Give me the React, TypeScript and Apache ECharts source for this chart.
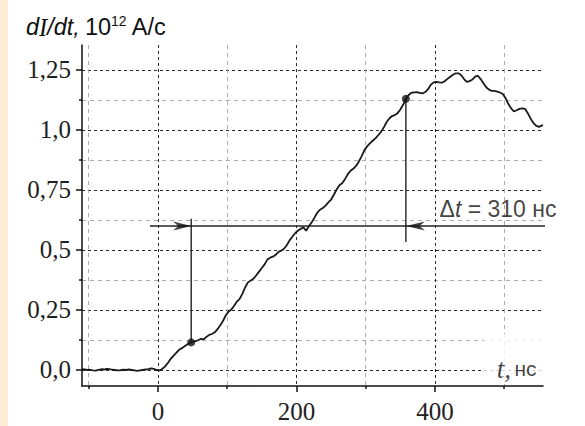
import React, { useEffect, useRef } from 'react';
import * as echarts from 'echarts';

// time, ns
const T = [
  -110, -106, -102, -98, -94, -90, -86, -82, -78, -74, -70, -66, -62, -58, -54, -50, -46, -42, -38, -34, -30, -26, -22, -18, -14, -10, -6, -2,
  2, 6, 10, 14, 18, 22, 26, 30, 34, 38, 42, 46, 50, 54, 58, 62, 66, 70, 74, 78, 82, 86, 90, 94, 98,
  102, 106, 110, 114, 118, 122, 126, 130, 134, 138, 142, 146, 150, 154, 158, 162, 166, 170, 174, 178, 182, 186, 190, 194, 198,
  202, 206, 210, 214, 218, 222, 226, 230, 234, 238, 242, 246, 250, 254, 258, 262, 266, 270, 274, 278, 282, 286, 290, 294, 298,
  302, 306, 310, 314, 318, 322, 326, 330, 334, 338, 342, 346, 350, 354, 358, 362, 366, 370, 374, 378, 382, 386, 390, 394, 398,
  402, 406, 410, 414, 418, 422, 426, 430, 434, 438, 442, 446, 450, 454, 458, 462, 466, 470, 474, 478, 482, 486, 490, 494, 498,
  502, 506, 510, 514, 518, 522, 526, 530, 534, 538, 542, 546, 550, 554, 556,
];
// dI/dt, 10^12 A/s
const DIDT = [
  0.004, 0.002, 0.0, 0.001, -0.002, -0.003, 0.0, 0.003, 0.002, 0.005, 0.004, 0.001, 0.0, -0.002, -0.001, 0.001, 0.0, 0.002, 0.0, -0.002, -0.004, -0.002, 0.0, 0.002, 0.004, 0.007, 0.005, 0.0,
  -0.002, 0.004, 0.014, 0.028, 0.045, 0.058, 0.07, 0.083, 0.09, 0.098, 0.106, 0.112, 0.117, 0.12, 0.124, 0.13, 0.128, 0.138, 0.146, 0.15, 0.157, 0.17, 0.186, 0.205, 0.228,
  0.243, 0.252, 0.268, 0.285, 0.296, 0.318, 0.345, 0.365, 0.373, 0.38, 0.395, 0.41, 0.425, 0.44, 0.46, 0.468, 0.472, 0.48, 0.492, 0.497, 0.505, 0.52, 0.54, 0.555, 0.57,
  0.58, 0.588, 0.594, 0.58, 0.6, 0.615, 0.635, 0.655, 0.668, 0.675, 0.685, 0.698, 0.71, 0.73, 0.752, 0.77, 0.778, 0.795, 0.815, 0.83, 0.838, 0.85, 0.868, 0.89, 0.915,
  0.932, 0.944, 0.955, 0.965, 0.978, 0.992, 1.01, 1.032, 1.048, 1.058, 1.062, 1.07, 1.085, 1.105, 1.13, 1.146, 1.155, 1.157, 1.158, 1.155, 1.152, 1.158, 1.17, 1.188, 1.198,
  1.2, 1.198, 1.197, 1.203, 1.213, 1.222, 1.23, 1.236, 1.236, 1.228, 1.212, 1.2, 1.203, 1.21, 1.222, 1.226, 1.212, 1.195, 1.178, 1.168, 1.163, 1.163, 1.16, 1.156, 1.15,
  1.132, 1.108, 1.09, 1.077, 1.082, 1.088, 1.09, 1.088, 1.07, 1.048, 1.03, 1.018, 1.013, 1.018, 1.02,
];

const X_MIN = -109.7;
const X_MAX = 556;
const Y_MIN = -0.0667;
const Y_MAX = 1.354;

const Y_TICKS = [0, 0.25, 0.5, 0.75, 1.0, 1.25];
const Y_TICK_LABELS = ['0,0', '0,25', '0,5', '0,75', '1,0', '1,25'];
const Y_MINOR = [0.125, 0.375, 0.625, 0.875, 1.125];
const X_TICKS = [0, 200, 400];
const X_TICK_LABELS = ['0', '200', '400'];
const X_MINOR = [-100, 100, 300, 500];

// Δt annotation
const MARK_T = [48, 358];
const MARK_V = [0.115, 1.13];
const DT_LEVEL = 0.6;
const DT_LINE_FROM = -11.5;
const DT_LINE_TO = 614;
const LEFT_V_TOP = 0.63;
const RIGHT_V_BOTTOM = 0.533;
const DT_LABEL_AT = [491, 0.6];
const DT_TEXT = '{d|Δ}{t|t}{n| = 310 нс}';

const X_NAME_AT = [556, 0];
const X_NAME_TEXT = '{t|t,} {u|нс}';
const TITLE_TEXT = '{i|d}{I|I}{i|/dt,} {n|10}{s|12}{n| A/c}';

const SERIF = 'Liberation Serif';
const SANS = 'Liberation Sans';

function labelFor(values: number[], labels: string[]) {
  return (v: number) => {
    const i = values.findIndex((x) => Math.abs(x - v) < 1e-6);
    return i >= 0 ? labels[i] : '';
  };
}

const majorLine = { color: '#2a2a2a', width: 1, type: [3, 3] as number[] };
const minorLine = { color: '#ababab', width: 1, type: [4, 4] as number[] };

export default function App() {
  const ref = useRef<HTMLDivElement>(null);
  useEffect(() => {
    document.body.style.margin = '0';
    const chart = echarts.init(ref.current!, null, { renderer: 'svg' });
    const curve = T.map((t, i) => [t, DIDT[i]]);
    const option: any = {
      animation: false,
      title: {
        text: TITLE_TEXT,
        left: 26,
        top: 14,
        padding: 0,
        textStyle: {
          fontWeight: 'normal',
          rich: {
            i: { fontFamily: SANS, fontStyle: 'italic', fontWeight: 'normal', fontSize: 23.5, color: '#111', lineHeight: 26 },
            I: { fontFamily: SERIF, fontStyle: 'italic', fontWeight: 'normal', fontSize: 24.5, color: '#111', lineHeight: 26 },
            n: { fontFamily: SANS, fontWeight: 'normal', fontSize: 23.5, color: '#111', lineHeight: 26 },
            s: { fontFamily: SANS, fontWeight: 'normal', fontSize: 14, color: '#111', lineHeight: 18, verticalAlign: 'top' },
          },
        },
      },
      grid: { left: 82, right: 42, top: 45, bottom: 40, containLabel: false },
      xAxis: [
        {
          type: 'value',
          min: X_MIN,
          max: X_MAX,
          position: 'bottom',
          axisLine: { onZero: false, lineStyle: { color: '#111', width: 1.5 } },
          axisTick: { customValues: X_TICKS, length: 6, lineStyle: { color: '#111', width: 1.5 } },
          axisLabel: {
            customValues: X_TICKS,
            formatter: labelFor(X_TICKS, X_TICK_LABELS),
            margin: 13,
            fontFamily: SERIF,
            fontSize: 25,
            color: '#222',
          },
          splitLine: { show: true, lineStyle: majorLine },
        },
        {
          type: 'value',
          min: X_MIN,
          max: X_MAX,
          position: 'bottom',
          axisLine: { show: false, onZero: false },
          axisTick: { customValues: X_MINOR, length: 3, lineStyle: { color: '#111', width: 1.5 } },
          axisLabel: { show: false },
          splitLine: { show: true, lineStyle: minorLine },
        },
      ],
      yAxis: [
        {
          type: 'value',
          min: Y_MIN,
          max: Y_MAX,
          position: 'left',
          axisLine: { show: true, onZero: false, lineStyle: { color: '#111', width: 1.5 } },
          axisTick: { show: true, customValues: Y_TICKS, length: 6, lineStyle: { color: '#111', width: 1.5 } },
          axisLabel: {
            customValues: Y_TICKS,
            formatter: labelFor(Y_TICKS, Y_TICK_LABELS),
            margin: 11,
            fontFamily: SERIF,
            fontSize: 25,
            color: '#222',
          },
          splitLine: { show: true, lineStyle: majorLine },
        },
        {
          type: 'value',
          min: Y_MIN,
          max: Y_MAX,
          position: 'left',
          axisLine: { show: false, onZero: false },
          axisTick: { show: true, customValues: Y_MINOR, length: 3, lineStyle: { color: '#111', width: 1.5 } },
          axisLabel: { show: false },
          splitLine: { show: true, lineStyle: minorLine },
        },
      ],
      series: [
        {
          type: 'line',
          data: curve,
          showSymbol: false,
          lineStyle: { color: '#1a1a1a', width: 1.8 },
          z: 3,
          silent: true,
        },
        {
          type: 'line',
          data: [[DT_LINE_FROM, DT_LEVEL], [DT_LINE_TO, DT_LEVEL]],
          showSymbol: false,
          clip: false,
          lineStyle: { color: '#222', width: 1.4 },
          silent: true,
        },
        {
          type: 'line',
          data: [[MARK_T[0], MARK_V[0]], [MARK_T[0], LEFT_V_TOP]],
          showSymbol: false,
          clip: false,
          lineStyle: { color: '#222', width: 1.4 },
          silent: true,
        },
        {
          type: 'line',
          data: [[MARK_T[1], MARK_V[1]], [MARK_T[1], RIGHT_V_BOTTOM]],
          showSymbol: false,
          clip: false,
          lineStyle: { color: '#222', width: 1.4 },
          silent: true,
        },
        {
          type: 'scatter',
          data: MARK_T.map((t, i) => [t, MARK_V[i]]),
          symbolSize: 8,
          itemStyle: { color: '#111' },
          z: 5,
          silent: true,
        },
        {
          type: 'scatter',
          data: [[MARK_T[0], DT_LEVEL]],
          symbol: 'path://M0,0 L18,5 L0,10 L5,5 Z',
          symbolSize: [18, 9],
          symbolOffset: [-9, 0],
          itemStyle: { color: '#111' },
          z: 5,
          silent: true,
        },
        {
          type: 'scatter',
          data: [[MARK_T[1], DT_LEVEL]],
          symbol: 'path://M18,0 L0,5 L18,10 L13,5 Z',
          symbolSize: [19, 9],
          symbolOffset: [9.5, 0],
          itemStyle: { color: '#111' },
          z: 5,
          silent: true,
        },
        {
          type: 'scatter',
          data: [DT_LABEL_AT],
          symbolSize: 1,
          itemStyle: { color: 'rgba(0,0,0,0)' },
          silent: true,
          label: {
            show: true,
            position: 'top',
            distance: 5,
            formatter: DT_TEXT,
            rich: {
              d: { fontFamily: SANS, fontSize: 23, color: '#111' },
              t: { fontFamily: SANS, fontStyle: 'italic', fontSize: 23, color: '#111' },
              n: { fontFamily: SANS, fontSize: 23, color: '#111' },
            },
          },
        },
        {
          type: 'scatter',
          data: [X_NAME_AT],
          symbolSize: 1,
          clip: false,
          itemStyle: { color: 'rgba(0,0,0,0)' },
          silent: true,
          label: {
            show: true,
            position: 'left',
            distance: 0,
            offset: [0, -11],
            formatter: X_NAME_TEXT,
            backgroundColor: '#fff',
            padding: [22, 6, 2, 13],
            rich: {
              t: { fontFamily: SERIF, fontStyle: 'italic', fontSize: 27, color: '#111', lineHeight: 26 },
              u: { fontFamily: SANS, fontSize: 21, color: '#111', lineHeight: 26 },
            },
          },
        },
      ],
    };
    chart.setOption(option);
    return () => chart.dispose();
  }, []);
  return (
    <div style={{ position: 'relative', width: 585, height: 426, background: '#fff' }}>
      <div style={{ position: 'absolute', left: 0, top: 0, width: 8, height: 426, background: '#FDEBD5' }} />
      <div ref={ref} style={{ position: 'absolute', left: 0, top: 0, width: 585, height: 426 }} />
    </div>
  );
}
